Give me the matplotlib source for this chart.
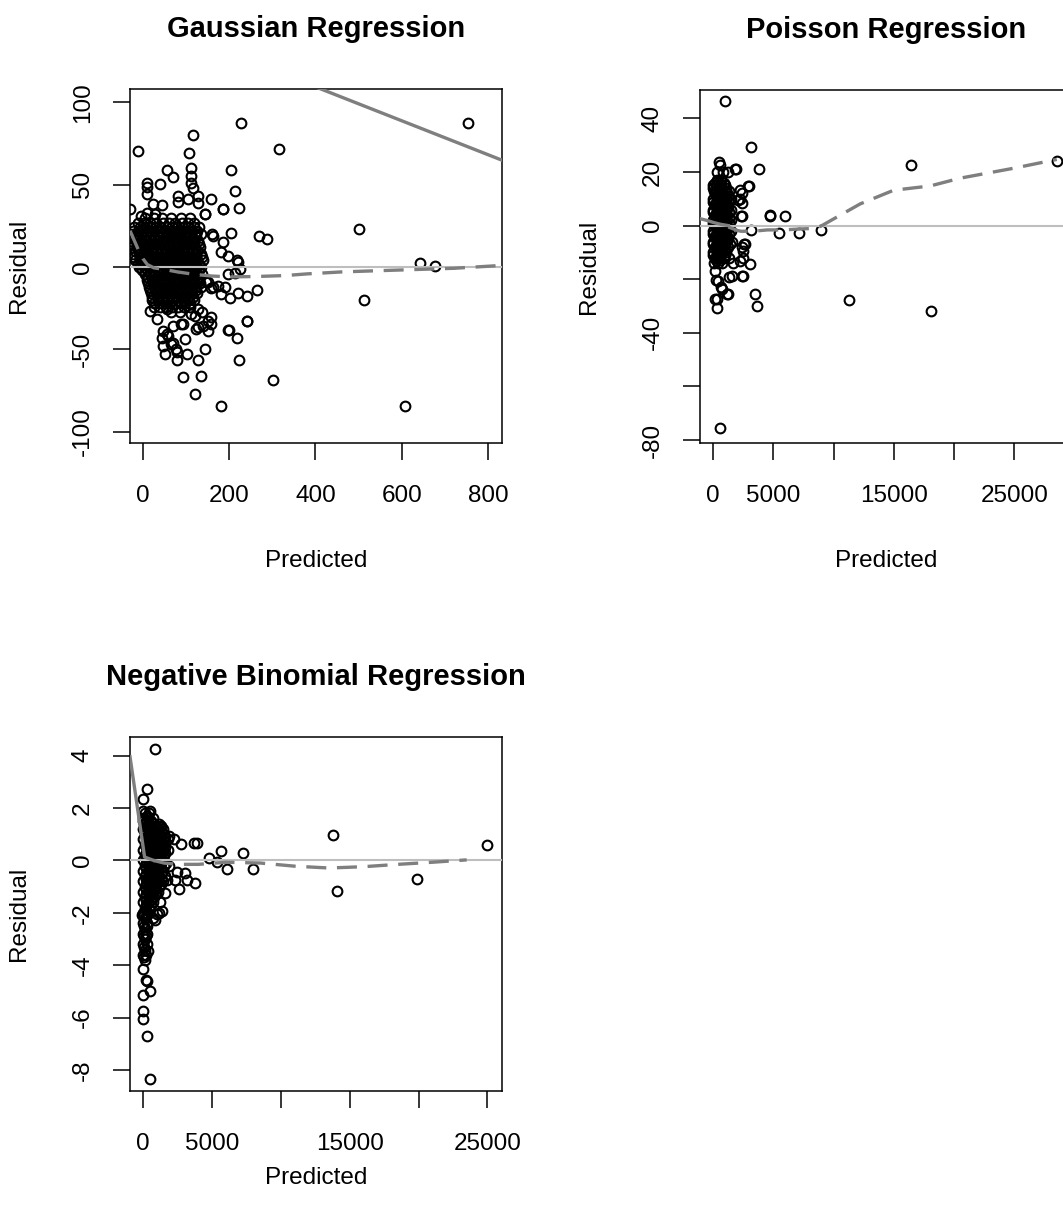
import matplotlib
matplotlib.use("Agg")
import matplotlib.pyplot as plt

plt.rcParams['font.family'] = ['Liberation Sans', 'DejaVu Sans']

# ---- Gaussian regression: residual vs predicted ----
gauss_pts = [
    (753, 87.6), (227, 87.6), (116, 80), (316, 71.7), (-11, 70.5), (106, 69),
    (56, 59), (204, 59), (70, 54.7), (111, 60), (111, 55), (111, 51), (40, 50.6),
    (9, 51), (9, 48.6), (9, 44.6), (213, 46), (157, 41.5), (222, 36), (185, 35),
    (144, 32), (116, 48), (81, 43), (81, 39.5), (105, 41.5), (128, 43), (128, 38.7),
    (23, 38.4), (43, 37.4), (-31, 35.4), (186, 35.4), (143, 32.3),
    (502, 22.8), (268, 19), (288, 16.7), (204, 20.7), (159, 20), (163, 19), (186, 15.4),
    (182, 9), (198, 6.9), (217, 4.5), (226, -1), (642, 2.2), (677, 0.8),
    (213, -3.7), (198, -4.3), (221, 2.8),
    (512, -20), (264, -13.8), (241, -17.5), (221, -16), (201, -19), (182, -16.5),
    (174, -11.4), (190, -12.4), (151, -9), (163, -12.4), (147, -9), (158, -13),
    (241, -33), (198, -38), (217, -43), (222, -56.5), (144, -50), (128, -56.5),
    (158, -30.5), (158, -34.5), (128, -36.5), (93, -34.5), (97, -44),
    (69, -35.8), (69, -46), (47, -48), (51, -52.6), (78, -51.6), (78, -56.5),
    (103, -52.8), (43, -43), (55, -41),
    (92, -67), (134, -66), (121, -77), (181, -84.6), (608, -84.6), (301, -68.7),
    (16, -27), (32, -31.7), (55, -25.6), (86, -27.6), (121, -29.7), (128, -25.6),
    (66, -27.6), (112, -28.7), (136, -27.6), (151, -32.7), (140, -35.8), (151, -38.8),
    (124, -37.8), (89, -34.7), (46, -38.8), (58, -41.9), (66, -47), (77, -50),
    (200, -38.4), (242, -33), (-5, 31), (10, 33), (28, 32),
]
gauss_rows = [
    (30, [5, 25, 45, 65, 88, 108]),
    (27, [-12, 2, 17, 31, 46, 60, 75, 90, 104, 119]),
    (24, [-20, -8, 5, 18, 30, 42, 55, 68, 80, 92, 105, 118, 130]),
    (22, [-24, -11, 1, 14, 26, 38, 51, 63, 76, 88, 100, 113, 125]),
    (20, [-28, -15, -3, 10, 22, 35, 47, 60, 72, 85, 97, 110, 122, 135]),
    (18, [-22, -10, 2, 14, 26, 38, 50, 62, 74, 86, 98, 110, 122]),
    (16, [-28, -16, -4, 8, 20, 32, 44, 56, 68, 80, 92, 104, 116, 128]),
    (14, [-26, -14, -2, 10, 22, 34, 46, 58, 70, 82, 94, 106, 118, 130]),
    (12, [-25, -13, 0, 12, 24, 36, 48, 60, 72, 84, 96, 108, 120, 132]),
    (10, [-19, -7, 6, 18, 30, 42, 54, 66, 78, 90, 102, 114, 126]),
    (8, [-22, -10, 2, 14, 26, 38, 50, 62, 74, 86, 98, 110, 122, 135]),
    (6, [-20, -8, 4, 16, 28, 40, 52, 64, 76, 88, 100, 112, 124, 136]),
    (4, [-18, -6, 6, 18, 30, 42, 54, 66, 78, 90, 102, 114, 126, 140]),
    (2, [-12, 0, 12, 24, 36, 48, 60, 72, 84, 96, 108, 120, 131]),
    (0, [-10, 2, 14, 26, 38, 50, 62, 74, 86, 98, 110, 122, 134]),
    (-2, [-2, 10, 22, 34, 46, 58, 70, 82, 94, 106, 118, 130]),
    (-4, [5, 17, 29, 41, 53, 65, 77, 89, 101, 113, 125, 137]),
    (-6, [9, 20, 32, 44, 56, 68, 80, 92, 104, 116, 128]),
    (-8, [10, 22, 34, 46, 58, 70, 82, 94, 106, 118, 130]),
    (-10, [12, 24, 36, 48, 60, 72, 84, 96, 108, 120, 132]),
    (-12, [14, 26, 38, 50, 62, 74, 86, 98, 110, 122, 134]),
    (-14, [17, 28, 40, 52, 64, 76, 88, 100, 112, 124]),
    (-16, [18, 30, 42, 54, 66, 78, 90, 102, 114, 126]),
    (-18, [21, 32, 44, 56, 68, 80, 92, 104, 116]),
    (-20, [22, 34, 46, 58, 70, 82, 94, 106, 118]),
    (-22, [26, 38, 50, 62, 74, 86, 98, 110]),
    (-24, [26, 40, 54, 68, 82, 96, 110]),
]
gauss_fit_x = [-30, 835]
gauss_fit_y = [153.7, 64.6]
gauss_smooth_x = [-30, -20, -10, 0, 10, 25, 50, 80, 120, 160, 200, 260, 330, 380, 460, 540, 600, 720, 835]
gauss_smooth_y = [22, 16, 10, 5, 1.5, -0.5, -1.5, -3, -4.5, -5.5, -6, -5.8, -5.2, -4.2, -3, -2.3, -1.8, -0.8, 1.0]

# ---- Poisson regression ----
pois_pts = [
    (997, 46.4), (3130, 29.4), (3795, 21.2), (1855, 21.2), (525, 22.6), (16420, 22.8),
    (28540, 24.2), (2990, 14.6), (2240, 10), (2380, 12), (4680, 4.1), (4700, 3.5),
    (5980, 3.5), (2325, 3.5), (3130, -1.7), (5480, -2.7), (7140, -2.7), (8970, -1.7),
    (11300, -27.6), (18080, -32), (3490, -25.5), (3630, -29.9), (2465, -18.8),
    (3046, -14.4), (1135, -25.5), (166, -27.4), (305, -30.6), (580, -75.6),
    (250, -20.2), (650, -22.9), (2400, -8), (2550, -7), (2480, -12), (1600, -14),
    (1300, -19), (470, 23.8), (1800, 21.1), (300, 20), (800, 20), (1200, 20),
    (2215, 13.3), (2900, 14.6), (2076, 9.6), (2353, 8.4), (2353, 3.5),
    (140, -16.9), (415, -20.6), (277, -27.4), (692, -23.7), (1245, -25.6),
    (1522, -18.8), (2353, -18.8), (2215, -13.2), (2492, -9.5), (2630, -7),
]
pois_rows = [
    (17, [300, 650]),
    (16, [150, 500, 850]),
    (15, [0, 280, 620, 950]),
    (14, [0, 350, 700, 1050]),
    (13, [50, 280, 620, 950, 1300]),
    (12, [100, 450, 800, 1150]),
    (11, [200, 550, 900, 1250]),
    (10, [0, 350, 700, 1050, 1500]),
    (9, [0, 280, 620, 950, 1300]),
    (8, [100, 450, 800, 1150]),
    (7, [200, 550, 900, 1250]),
    (6, [0, 350, 700, 1050, 1450]),
    (5, [0, 280, 620, 950, 1300]),
    (4, [100, 450, 800, 1150]),
    (3, [200, 550, 900, 1300]),
    (2, [0, 350, 700, 1050, 1500]),
    (1, [0, 280, 620, 950, 1300]),
    (0, [100, 450, 800, 1150]),
    (-1, [200, 550, 900, 1250]),
    (-2, [0, 350, 700, 1050, 1450]),
    (-3, [0, 280, 620, 950, 1300]),
    (-4, [100, 450, 800, 1150]),
    (-5, [200, 550, 900, 1250]),
    (-6, [0, 350, 700, 1050, 1550]),
    (-7, [0, 280, 620, 950, 1350]),
    (-8, [100, 450, 800, 1200]),
    (-9, [200, 550, 900]),
    (-10, [0, 350, 700, 1050]),
    (-11, [0, 280, 620, 950]),
    (-12, [100, 450, 850, 1300]),
    (-13, [200, 550]),
    (-14, [50, 400, 750]),
]
pois_fit_x = [-1105, -500, 0, 600, 1250]
pois_fit_y = [2.6, 1.9, 1.2, 0.5, 0.0]
pois_smooth_x = [1250, 2000, 2300, 3300, 4500, 5800, 7000, 8000, 8900, 9720, 12200, 14980, 18020, 20500, 24940, 28540]
pois_smooth_y = [-0.5, -1.8, -2.1, -2.1, -1.6, -1.6, -1.3, -1.1, -0.3, 1.8, 8.1, 13.2, 14.8, 17.7, 21.4, 24.7]

# ---- Negative binomial regression ----
nb_pts = [
    (872, 4.25), (266, 2.72), (-22, 2.34), (13785, 0.97), (24975, 0.58), (14076, -1.17),
    (19890, -0.71), (7245, 0.28), (5646, 0.36), (7970, -0.33), (6080, -0.33),
    (5355, -0.06), (4750, 0.1), (3660, 0.66), (3900, 0.66), (2760, 0.62),
    (3780, -0.87), (3175, -0.74), (2616, -1.09), (1840, 0.95), (2200, 0.83),
    (1185, 1.27), (1110, -2.0), (872, -2.26), (509, -8.35), (266, -6.72),
    (-22, -6.04), (-22, -5.73), (-22, -5.15), (460, -4.99), (300, -4.6), (200, -4.58),
    (0, -4.14), (339, -3.46), (-121, -2.1), (966, -2.03), (1330, -1.93), (727, -2.2),
    (1700, -0.74), (2300, -0.74), (3030, -0.49), (2425, -0.43), (1090, -0.24),
    (1577, -1.25), (1214, -1.57), (-22, 1.89), (460, 1.89),
]
nb_rows = [
    (1.8, [100, 400]),
    (1.7, [250]),
    (1.6, [0, 350, 700]),
    (1.5, [-50, 200, 550]),
    (1.4, [100, 450, 800, 1150]),
    (1.3, [200, 550, 900, 1250]),
    (1.2, [0, 350, 700, 1050, 1400]),
    (1.1, [200, 550, 900, 1250]),
    (1.0, [100, 450, 800, 1150, 1500]),
    (0.9, [200, 550, 900, 1250, 1600]),
    (0.8, [0, 350, 700, 1050, 1400, 1800]),
    (0.7, [200, 550, 900, 1250, 1600]),
    (0.6, [100, 450, 800, 1150, 1500]),
    (0.5, [200, 550, 900, 1250, 1600]),
    (0.4, [0, 350, 700, 1050, 1400, 1800]),
    (0.3, [200, 550, 900, 1250, 1600]),
    (0.2, [100, 450, 800, 1150, 1500]),
    (0.1, [200, 550, 900, 1250]),
    (0.0, [0, 350, 700, 1050, 1400]),
    (-0.1, [200, 550, 900, 1250, 1650]),
    (-0.2, [100, 450, 800, 1150, 1500, 1900]),
    (-0.3, [200, 550, 900, 1250]),
    (-0.4, [0, 350, 700, 1050, 1400]),
    (-0.5, [200, 550, 900, 1250]),
    (-0.6, [100, 450, 800, 1150, 1550]),
    (-0.7, [200, 550, 900, 1250]),
    (-0.8, [0, 350, 700, 1050, 1400]),
    (-0.9, [200, 550, 900, 1250]),
    (-1.0, [100, 450, 800, 1150]),
    (-1.1, [200, 550, 900]),
    (-1.2, [0, 350, 700, 1050]),
    (-1.3, [200, 550, 900]),
    (-1.4, [100, 450, 800]),
    (-1.5, [200, 550]),
    (-1.6, [0, 350, 700]),
    (-1.7, [200, 550]),
    (-1.8, [100, 450]),
    (-1.9, [200]),
    (-2.0, [0, 300]),
    (-2.1, [50, 250]),
    (-2.2, [150]),
    (-2.4, [0, 300]),
    (-2.5, [50, 250]),
    (-2.6, [150]),
    (-2.8, [0, 250]),
    (-2.9, [50, 200]),
    (-3.0, [100]),
    (-3.2, [0, 250]),
    (-3.3, [50]),
    (-3.4, [100]),
    (-3.6, [0, 200]),
    (-3.7, [50]),
    (-3.8, [100]),
]
nb_fit_x = [-967, 94, 750]
nb_fit_y = [3.96, 0.13, 0.0]
nb_smooth_x = [750, 1500, 2500, 4000, 6000, 8500, 11000, 13500, 16000, 18500, 21000, 23500]
nb_smooth_y = [0, -0.1, -0.15, -0.15, -0.07, -0.1, -0.22, -0.29, -0.24, -0.15, -0.07, 0.02]

W, H = 1063, 1220
fig = plt.figure(figsize=(W / 100, H / 100), dpi=100)


def make_axes(left, top, right, bottom):
    return fig.add_axes([left / W, 1 - bottom / H, (right - left) / W, (bottom - top) / H])


def panel(ax, title, pts, rows, fit_x, fit_y, sm_x, sm_y, xlim, ylim,
          xticks, xlabels, yticks, ylabels, xlab_off=118):
    xs = [p[0] for p in pts]
    ys = [p[1] for p in pts]
    for y, row in rows:
        xs += row
        ys += [y] * len(row)
    ax.plot(xs, ys, 'o', ms=7.0, mfc='none', mec='black', mew=1.5, zorder=2)
    ax.axhline(0, color='#bebebe', lw=1.5, zorder=3)
    ax.plot(fit_x, fit_y, color='#7f7f7f', lw=2.4, zorder=4)
    ax.plot(sm_x, sm_y, color='#7f7f7f', lw=2.4, ls=(0, (6, 3.2)), zorder=4)
    ax.set_xlim(*xlim)
    ax.set_ylim(*ylim)
    ax.set_xticks(xticks)
    ax.set_xticklabels(xlabels)
    ax.set_yticks(yticks)
    ax.set_yticklabels(ylabels)
    for s in ax.spines.values():
        s.set_linewidth(1.1)
    ax.tick_params(axis='both', direction='out', length=12, width=1.1, labelsize=17.5)
    ax.tick_params(axis='x', pad=26)
    ax.tick_params(axis='y', pad=22)
    for t in ax.get_xticklabels():
        t.set_va('center')
    for t in ax.get_yticklabels():
        t.set_rotation(90)
        t.set_ha('center')
        t.set_va('center')
    bw = ax.get_position().width * W
    bh = ax.get_position().height * H
    ax.set_xlabel('Predicted', fontsize=17.5, va='center')
    ax.xaxis.set_label_coords(0.5, -xlab_off / bh)
    ax.set_ylabel('Residual', fontsize=17.5, va='center', ha='center')
    ax.yaxis.set_label_coords(-111 / bw, 0.5)
    ax.set_title(title, fontsize=21, fontweight='bold', y=1 + 60 / bh, va='center', pad=0)


ax1 = make_axes(130, 89, 502, 443)
panel(ax1, 'Gaussian Regression', gauss_pts, gauss_rows, gauss_fit_x, gauss_fit_y,
      gauss_smooth_x, gauss_smooth_y, (-30.1, 832.5), (-106.9, 108.1),
      [0, 200, 400, 600, 800], ['0', '200', '400', '600', '800'],
      [-100, -50, 0, 50, 100], ['-100', '-50', '0', '50', '100'])

ax2 = make_axes(700, 90, 1072, 443)
panel(ax2, 'Poisson Regression', pois_pts, pois_rows, pois_fit_x, pois_fit_y,
      pois_smooth_x, pois_smooth_y, (-1105, 29800), (-81.1, 50.6),
      [0, 5000, 10000, 15000, 20000, 25000], ['0', '5000', '', '15000', '', '25000'],
      [-80, -60, -40, -20, 0, 20, 40], ['-80', '', '-40', '', '0', '20', '40'])

ax3 = make_axes(130, 737, 502, 1091)
panel(ax3, 'Negative Binomial Regression', nb_pts, nb_rows, nb_fit_x, nb_fit_y,
      nb_smooth_x, nb_smooth_y, (-967, 26067), (-8.80, 4.71),
      [0, 5000, 10000, 15000, 20000, 25000], ['0', '5000', '', '15000', '', '25000'],
      [-8, -6, -4, -2, 0, 2, 4], ['-8', '-6', '-4', '-2', '0', '2', '4'],
      xlab_off=87)

fig.savefig('out.png', dpi=100)
